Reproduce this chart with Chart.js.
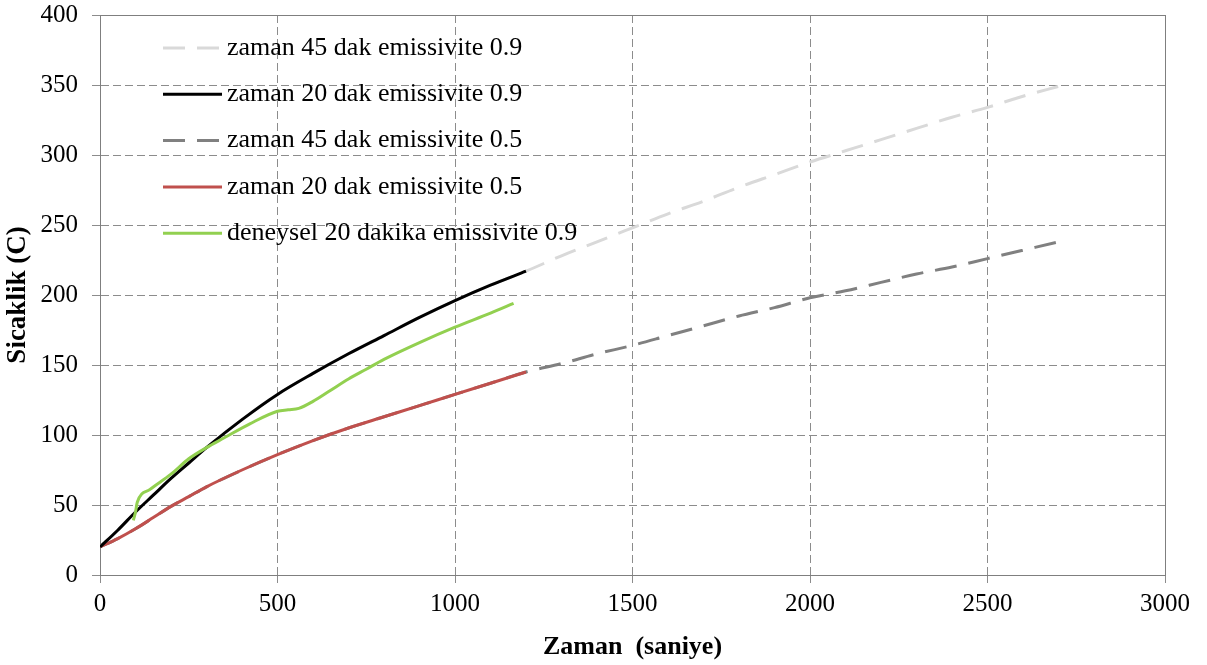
<!DOCTYPE html>
<html>
<head>
<meta charset="utf-8">
<script src="https://cdn.jsdelivr.net/npm/chart.js@4"></script>
<style>
  body { margin: 0; background: #fff; }
  #wrap { width: 1207px; height: 665px; }
</style>
</head>
<body>
<div id="wrap"><canvas id="tempChart" width="1207" height="665"></canvas></div>
<script>
// time axis (seconds)
const tShort = [0, 50, 100, 150, 200, 250, 300, 400, 500, 600, 700, 800, 900, 1000, 1100, 1200];
const tLong = [0, 50, 100, 150, 200, 250, 300, 400, 500, 600, 700, 800, 900, 1000, 1100, 1200,
               1300, 1400, 1500, 1600, 1700, 1800, 1900, 2000, 2100, 2200, 2300, 2400, 2500, 2600, 2700];

// simulation, 20 min
const sim20e09 = [20, 32, 45, 57, 69, 80, 91, 111, 129, 144, 158, 171, 184, 196, 207, 217];
const sim20e05 = [20, 26, 33, 41, 49, 56, 63, 75, 86, 96, 105, 113, 121, 129, 137, 145];

// simulation, 45 min
const sim45e09 = [20, 32, 45, 57, 69, 80, 91, 111, 129, 144, 158, 171, 184, 196, 207, 217,
                  228, 238, 248, 258, 267, 277, 286, 295, 303, 311, 319, 327, 334, 342, 349];
const sim45e05 = [20, 26, 33, 41, 49, 56, 63, 75, 86, 96, 105, 113, 121, 129, 137, 145,
                  151, 158, 164, 171, 178, 185, 191, 198, 203, 209, 215, 220, 226, 232, 238];

// experiment, 20 min
const tExp = [94, 100, 105, 140, 200, 250, 300, 350, 422, 500, 530, 560, 600, 650, 700, 750, 800, 900, 1000, 1100, 1165];
const exp20e09 = [39, 45, 52, 61, 72, 83, 91, 98, 108, 117, 118, 119, 124, 132, 140, 147, 154, 166, 177, 187, 194];

const xTicks = [0, 500, 1000, 1500, 2000, 2500, 3000];
const yTicks = [0, 50, 100, 150, 200, 250, 300, 350, 400];

function pts(xs, ys) {
    return xs.map((x, i) => ({ x: x, y: ys[i] }));
}

const serif = "'Liberation Serif', 'Times New Roman', serif";

// legend drawn inside the plot, stacked
const innerLegend = {
    id: 'innerLegend',
    afterDatasetsDraw(chart) {
        const ctx = chart.ctx;
        ctx.save();
        ctx.font = "26px " + serif;
        ctx.textBaseline = 'middle';
        chart.data.datasets.forEach((ds, i) => {
            const y = 48 + i * 46.3;
            ctx.beginPath();
            ctx.strokeStyle = ds.borderColor;
            ctx.lineWidth = ds.borderWidth;
            ctx.setLineDash(ds.borderDash || []);
            ctx.moveTo(163, y);
            ctx.lineTo(222, y);
            ctx.stroke();
            ctx.setLineDash([]);
            ctx.fillStyle = '#000';
            ctx.fillText(ds.label, 227, y);
        });
        ctx.restore();
    }
};

// solid frame round the plot area
const frame = {
    id: 'frame',
    beforeDatasetsDraw(chart) {
        const a = chart.chartArea;
        const ctx = chart.ctx;
        ctx.save();
        ctx.strokeStyle = '#7f7f7f';
        ctx.lineWidth = 1;
        ctx.strokeRect(a.left + 0.5, a.top + 0.5, a.right - a.left, a.bottom - a.top);
        ctx.restore();
    }
};

const ctx = document.getElementById('tempChart').getContext('2d');
new Chart(ctx, {
    type: 'line',
    data: {
        datasets: [
            {
                label: 'zaman 45 dak emissivite 0.9',
                data: pts(tLong, sim45e09),
                borderColor: '#d9d9d9',
                borderDash: [22, 12],
                borderWidth: 3,
                order: 2
            },
            {
                label: 'zaman 20 dak emissivite 0.9',
                data: pts(tShort, sim20e09),
                borderColor: '#000000',
                borderWidth: 3,
                order: 1
            },
            {
                label: 'zaman 45 dak emissivite 0.5',
                data: pts(tLong, sim45e05),
                borderColor: '#808080',
                borderDash: [22, 12],
                borderWidth: 3,
                order: 2
            },
            {
                label: 'zaman 20 dak emissivite 0.5',
                data: pts(tShort, sim20e05),
                borderColor: '#c0504d',
                borderWidth: 3,
                order: 1
            },
            {
                label: 'deneysel 20 dakika emissivite 0.9',
                data: pts(tExp, exp20e09),
                borderColor: '#92d050',
                borderWidth: 3,
                order: 0
            }
        ]
    },
    options: {
        responsive: false,
        animation: false,
        devicePixelRatio: 1,
        elements: {
            point: { radius: 0 },
            line: { cubicInterpolationMode: 'monotone', fill: false }
        },
        layout: { padding: { left: 2, right: 42, top: 15, bottom: 2 } },
        plugins: {
            legend: { display: false },
            tooltip: { enabled: false }
        },
        scales: {
            x: {
                type: 'linear',
                min: 0,
                max: 3000,
                afterBuildTicks: (s) => { s.ticks = xTicks.map(v => ({ value: v })); },
                afterFit: (s) => { s.height = 88; },
                grid: { color: '#8c8c8c', tickColor: '#8c8c8c', tickLength: 8, tickBorderDash: [] },
                border: { display: true, color: '#7f7f7f', dash: [8, 4] },
                ticks: { color: '#000', padding: 6, callback: (v) => String(v), font: { family: serif, size: 25 } },
                title: {
                    display: true,
                    text: 'Zaman  (saniye)',
                    color: '#000',
                    padding: { top: 4, bottom: 0 },
                    font: { family: serif, size: 26, weight: 'bold' }
                }
            },
            y: {
                min: 0,
                max: 400,
                afterBuildTicks: (s) => { s.ticks = yTicks.map(v => ({ value: v })); },
                afterFit: (s) => { s.width = 98; s.paddingTop = 0; s.paddingBottom = 0; },
                grid: { color: '#8c8c8c', tickColor: '#8c8c8c', tickLength: 8, tickBorderDash: [] },
                border: { display: true, color: '#7f7f7f', dash: [8, 4] },
                ticks: { color: '#000', padding: 14, callback: (v) => String(v), font: { family: serif, size: 25 } },
                title: {
                    display: true,
                    text: 'Sicaklik (C)',
                    color: '#000',
                    padding: { top: 0, bottom: 0 },
                    font: { family: serif, size: 27, weight: 'bold' }
                }
            }
        }
    },
    plugins: [frame, innerLegend]
});
</script>
</body>
</html>
